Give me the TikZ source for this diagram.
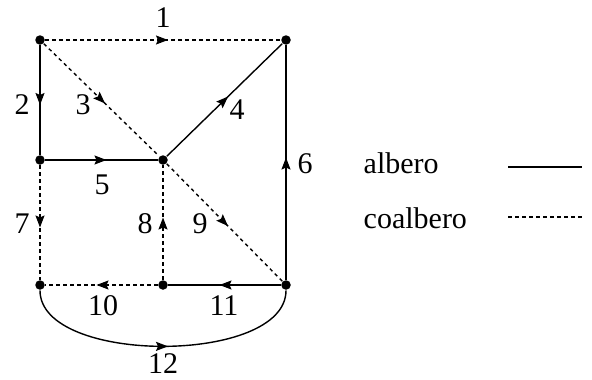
\documentclass[tikz,border=0pt]{standalone}
\usepackage{fontspec}
\setmainfont{Liberation Serif}
\usetikzlibrary{arrows.meta,decorations.markings}
\begin{document}
\begin{tikzpicture}[x=1pt, y=-1pt, line width=1.4pt,
    font=\fontsize{30}{34}\selectfont,
    vertex/.style={circle, fill, inner sep=0pt, minimum size=9.5pt},
    midarrow/.style={postaction={decorate}, decoration={markings,
        mark=at position 0.5 with {\arrow[xshift=5pt]{Stealth[length=12pt,width=9pt,inset=2pt]}}}},
    tree/.style={midarrow},
    cotree/.style={midarrow, dash pattern=on 3.5pt off 3.5pt}]
  \useasboundingbox (0,0) rectangle (592,380);
  % Vertices
  \node[vertex] (a) at (40,40) {};
  \node[vertex] (b) at (286,40) {};
  \node[vertex] (c) at (40,160) {};
  \node[vertex] (d) at (163,160) {};
  \node[vertex] (e) at (40,285) {};
  \node[vertex] (f) at (163,285) {};
  \node[vertex] (g) at (286,285) {};
  % Tree edges
  \draw[tree] (a) -- (c);
  \draw[tree] (d) -- (b);
  \draw[tree] (c) -- (d);
  \draw[tree] (g) -- (b);
  \draw[tree] (g) -- (f);
  \draw[tree] (e) .. controls +(0,80) and +(0,80) .. (g);
  % Cotree edges
  \draw[cotree] (a) -- (b);
  \draw[cotree] (a) -- (d);
  \draw[cotree] (c) -- (e);
  \draw[cotree] (f) -- (d);
  \draw[cotree] (d) -- (g);
  \draw[cotree] (f) -- (e);
  % Edge labels
  \node (l1) at (163,18) {1};
  \node (l2) at (22,105) {2};
  \node (l3) at (83,105) {3};
  \node (l4) at (237,110) {4};
  \node (l5) at (102,185) {5};
  \node (l6) at (305,164) {6};
  \node (l7) at (22,224) {7};
  \node (l8) at (145,224) {8};
  \node (l9) at (200,224) {9};
  \node (l10) at (103,306) {10};
  \node (l11) at (224,306) {11};
  \node[inner sep=0pt] (l12) at (163,364) {12};
  % Legend
  \node[anchor=base west, inner sep=0pt] (treetext) at (363,173) {albero};
  \node[anchor=base west, inner sep=0pt] (cotreetext) at (363,228) {coalbero};
  \coordinate (t1) at (508,167);
  \coordinate (t2) at (582,167);
  \coordinate (c1) at (508,217);
  \coordinate (c2) at (582,217);
  \draw (t1) -- (t2);
  \draw[dash pattern=on 3.5pt off 3.5pt] (c1) -- (c2);
\end{tikzpicture}
\end{document}
